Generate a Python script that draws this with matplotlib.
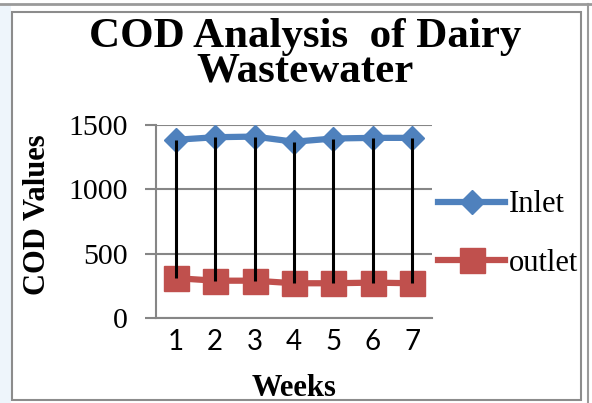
import matplotlib.pyplot as plt
from matplotlib.patches import Rectangle
from matplotlib.lines import Line2D

# COD values
weeks = [1, 2, 3, 4, 5, 6, 7]
inlet = [1385, 1405, 1410, 1370, 1395, 1400, 1400]
outlet = [310, 290, 290, 270, 270, 275, 270]
yticks = [0, 500, 1000, 1500]

W, H = 592, 403
fig = plt.figure(figsize=(W / 100, H / 100), dpi=100)
fig.patch.set_facecolor('white')

# outer frame bits
fig.add_artist(Line2D([0, 1], [1 - 3.5 / H, 1 - 3.5 / H], color='#9a9a9a', lw=2, zorder=-5))
fig.add_artist(Line2D([588 / W, 588 / W], [0, 1 - 3.5 / H], color='#9a9a9a', lw=1.5, zorder=-5))
fig.add_artist(Rectangle((0, 0), 11 / W, 1 - 5 / H, facecolor='#eef5fb',
                         edgecolor='none', zorder=-6))
fig.add_artist(Rectangle((12 / W, 1 - 400 / H), 569 / W, 388 / H,
                         facecolor='white', edgecolor='#8c8c8c', lw=1.5, zorder=-5))

ax = fig.add_axes([156 / W, 1 - 318 / H, (432 - 156) / W, (318 - 125) / H])
ax.set_facecolor('none')

serif = 'Liberation Serif'
sans = 'Lato'

ax.vlines(weeks, outlet, inlet, color='black', lw=2.2, zorder=4)
ax.plot(weeks, inlet, color='#4F81BD', lw=4.5, marker='D', ms=12,
        label='Inlet', zorder=3)
ax.plot(weeks, outlet, color='#C0504D', lw=4.5, marker='s', ms=18,
        label='outlet', zorder=3)

ax.set_xlim(0.5, 7.5)
ax.set_ylim(0, 1500)
ax.set_yticks(yticks)
ax.set_xticks(weeks)
ax.grid(axis='y', color='#868686', lw=1.5)
ax.set_axisbelow(True)
for s in ['top', 'right']:
    ax.spines[s].set_visible(False)
for s in ['left', 'bottom']:
    ax.spines[s].set_color('#868686')
    ax.spines[s].set_linewidth(1.5)
ax.tick_params(axis='y', length=8, width=1.5, color='#868686', pad=12,
               labelsize=21.5)
ax.tick_params(axis='x', length=0, pad=8, labelsize=20)
for lab in ax.get_xticklabels():
    lab.set_fontfamily(sans)
for lab in ax.get_yticklabels():
    lab.set_fontfamily(serif)

ax.set_ylabel('COD Values', fontfamily=serif, fontweight='bold', fontsize=22,
              va='center')
ax.yaxis.set_label_coords((38 - 156) / 276, (318 - 215) / 193)
ax.set_xlabel('Weeks', fontfamily=serif, fontweight='bold', fontsize=22,
              va='center')
ax.xaxis.set_label_coords(0.5, (318 - 388) / 193)

fig.text(305 / W, 1 - 18 / H, 'COD Analysis  of Dairy\nWastewater',
         ha='center', va='top', fontfamily=serif, fontweight='bold',
         fontsize=31, linespacing=0.88)

fig.legend(loc='center left', bbox_to_anchor=(426 / W, 1 - 234 / H),
           frameon=False, prop={'family': serif, 'size': 22},
           handlelength=2.2, handletextpad=0.1, labelspacing=0.95,
           borderaxespad=0)

fig.savefig('out.png', dpi=100)
